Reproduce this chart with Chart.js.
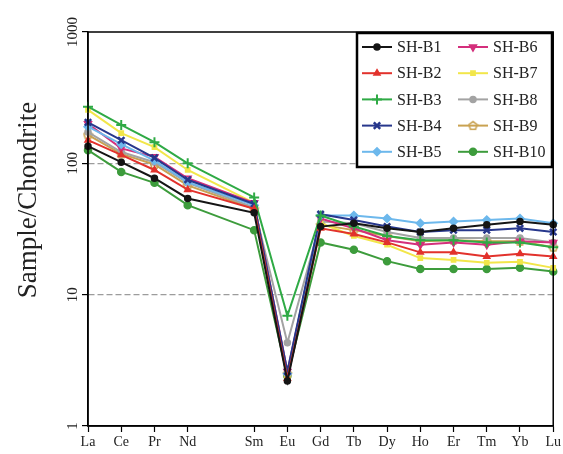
<!DOCTYPE html>
<html>
<head>
<meta charset="utf-8">
<script src="https://cdn.jsdelivr.net/npm/chart.js@4/dist/chart.umd.min.js"></script>
<style>
  html, body { margin: 0; padding: 0; background: #fff; }
  #wrap { width: 563px; height: 454px; }
</style>
</head>
<body>
<div id="wrap"><canvas id="reeChart"></canvas></div>
<script>
const elements = ['La', 'Ce', 'Pr', 'Nd', 'Pm', 'Sm', 'Eu', 'Gd', 'Tb', 'Dy', 'Ho', 'Er', 'Tm', 'Yb', 'Lu'];
const yTicks = [1, 10, 100, 1000];

// chondrite-normalised values, Pm not analysed
const shB1  = [135, 102, 77, 54, null, 42, 2.2, 33, 35, 32, 30, 32, 34, 36, 34];
const shB2  = [150, 116, 89, 63, null, 45, 2.3, 32, 29, 25, 21, 21, 19.5, 20.5, 19.5];
const shB3  = [270, 196, 145, 100, null, 55, 6.9, 40, 33, 28, 26, 26, 25, 25, 23];
const shB4  = [205, 150, 110, 75, null, 49, 2.6, 41, 37, 33, 30, 31, 31, 32, 30];
const shB5  = [190, 140, 105, 72, null, 48, 2.5, 40, 40, 38, 35, 36, 37, 38, 35];
const shB6  = [200, 130, 112, 77, null, 50, 2.6, 38, 32, 26, 24, 25, 24, 25.5, 25];
const shB7  = [255, 170, 133, 89, null, 50, 2.4, 35, 28, 24, 19, 18.4, 17.5, 17.8, 16];
const shB8  = [173, 122, 102, 71, null, 46, 4.3, 36, 35, 30, 27, 27, 27, 27, 25];
const shB9  = [165, 118, 98, 68, null, 45, 2.5, 34, 31, 28, 25.5, 26, 25.5, 25.5, 23];
const shB10 = [126, 86, 71, 48, null, 31, 2.4, 25, 22, 18, 15.7, 15.7, 15.7, 16, 15];

const SERIF = "'Liberation Serif', 'Times New Roman', serif";

function pentagon(color) {
    const c = document.createElement('canvas');
    c.width = 11; c.height = 11;
    const g = c.getContext('2d');
    g.strokeStyle = color;
    g.lineWidth = 1.6;
    g.beginPath();
    for (let i = 0; i < 5; i++) {
        const a = -Math.PI / 2 + i * 2 * Math.PI / 5;
        const px = 5.5 + 4.3 * Math.cos(a), py = 5.8 + 4.3 * Math.sin(a);
        i ? g.lineTo(px, py) : g.moveTo(px, py);
    }
    g.closePath();
    g.stroke();
    return c;
}

function series(label, data, color, style, extra) {
    return Object.assign({
        label: label,
        data: data,
        borderColor: color,
        backgroundColor: color,
        borderWidth: 2,
        pointStyle: style,
        pointRadius: 3,
        pointBorderWidth: 1.5,
        pointBorderColor: color,
        pointBackgroundColor: color,
        spanGaps: true,
        tension: 0
    }, extra || {});
}

const datasets = [
    series('SH-B1', shB1, '#151515', 'circle'),
    series('SH-B2', shB2, '#e2322c', 'triangle', { pointRadius: 3.5 }),
    series('SH-B3', shB3, '#2faa45', 'cross', { pointRadius: 5, pointBorderWidth: 2 }),
    series('SH-B4', shB4, '#27378c', 'crossRot', { pointRadius: 4.5, pointBorderWidth: 2.5 }),
    series('SH-B5', shB5, '#6db8ec', 'rectRot', { pointRadius: 4 }),
    series('SH-B6', shB6, '#d42f7c', 'triangle', { pointRadius: 4, pointRotation: 180 }),
    series('SH-B7', shB7, '#f2e64a', 'rect', { pointRadius: 3 }),
    series('SH-B8', shB8, '#a3a3a3', 'circle'),
    series('SH-B9', shB9, '#c9a251', pentagon('#c9a251')),
    series('SH-B10', shB10, '#3d9c3c', 'circle', { pointRadius: 3.5 })
];

const framePlugin = {
    id: 'frame',
    afterDatasetsDraw: chart => {
        const ctx = chart.ctx;
        const a = chart.chartArea;
        ctx.save();
        ctx.strokeStyle = '#000';
        ctx.lineWidth = 1.5;
        ctx.strokeRect(a.left, a.top, a.right - a.left, a.bottom - a.top);
        ctx.restore();
    }
};

const yLabelsPlugin = {
    id: 'yLabels',
    afterDraw: chart => {
        const ctx = chart.ctx;
        const y = chart.scales.y;
        ctx.save();
        ctx.fillStyle = '#222';
        ctx.font = '15px ' + SERIF;
        ctx.textAlign = 'center';
        ctx.textBaseline = 'middle';
        yTicks.forEach(v => {
            ctx.save();
            ctx.translate(73, y.getPixelForValue(v));
            ctx.rotate(-Math.PI / 2);
            ctx.fillText(String(v), 0, 0);
            ctx.restore();
        });
        // axis title
        ctx.font = '27px ' + SERIF;
        ctx.translate(29, 200);
        ctx.rotate(-Math.PI / 2);
        ctx.fillText('Sample/Chondrite', 0, 0);
        ctx.restore();
    }
};

const legendPlugin = {
    id: 'boxLegend',
    afterDraw: chart => {
        const ctx = chart.ctx;
        ctx.save();
        ctx.fillStyle = '#fff';
        ctx.fillRect(357, 33, 195, 134);
        ctx.strokeStyle = '#000';
        ctx.lineWidth = 2.5;
        ctx.strokeRect(357, 33, 195, 134);
        ctx.font = '16px ' + SERIF;
        ctx.textBaseline = 'middle';
        chart.data.datasets.forEach((ds, i) => {
            const col = i < 5 ? 0 : 1;
            const row = i % 5;
            const yy = 47 + row * 26.2;
            const x0 = col ? 458 : 362;
            const x1 = x0 + 30;
            ctx.strokeStyle = ds.borderColor;
            ctx.fillStyle = ds.pointBackgroundColor;
            ctx.lineWidth = 2;
            ctx.beginPath();
            ctx.moveTo(x0, yy);
            ctx.lineTo(x1, yy);
            ctx.stroke();
            ctx.lineWidth = ds.pointBorderWidth;
            Chart.helpers.drawPoint(ctx, {
                pointStyle: ds.pointStyle,
                radius: ds.pointRadius,
                rotation: ds.pointRotation || 0,
                borderWidth: ds.pointBorderWidth
            }, (x0 + x1) / 2, yy);
            ctx.fillStyle = '#222';
            ctx.fillText(ds.label, x1 + 5, yy + 1);
        });
        ctx.restore();
    }
};

const chart = new Chart(document.getElementById('reeChart').getContext('2d'), {
    type: 'line',
    data: { labels: elements, datasets: datasets },
    options: {
        responsive: true,
        maintainAspectRatio: false,
        animation: false,
        layout: { padding: { top: 32, right: 8, left: 0, bottom: 0 } },
        plugins: {
            legend: { display: false },
            tooltip: { enabled: false }
        },
        scales: {
            x: {
                type: 'category',
                offset: false,
                afterFit: s => { s.height = 28; },
                grid: {
                    drawOnChartArea: false,
                    tickLength: 6,
                    tickWidth: 1.2,
                    tickColor: c => elements[c.index] === 'Pm' ? 'rgba(0,0,0,0)' : '#000'
                },
                border: { color: '#000', width: 1.5 },
                ticks: {
                    autoSkip: false,
                    maxRotation: 0,
                    minRotation: 0,
                    padding: 2,
                    color: '#222',
                    font: { family: SERIF, size: 14 },
                    callback: (v, i) => elements[i] === 'Pm' ? '' : elements[i]
                }
            },
            y: {
                type: 'logarithmic',
                min: 1,
                max: 1000,
                afterFit: s => { s.width = 88; },
                afterBuildTicks: s => { s.ticks = yTicks.map(v => ({ value: v })); },
                grid: {
                    color: c => (c.tick && (c.tick.value === 10 || c.tick.value === 100)) ? '#9c9c9c' : 'rgba(0,0,0,0)',
                    lineWidth: 1.2,
                    tickLength: 6,
                    tickWidth: 1.2,
                    tickColor: '#000'
                },
                border: { color: '#000', width: 1.5, dash: [6, 3] },
                ticks: { display: false }
            }
        }
    },
    plugins: [framePlugin, yLabelsPlugin, legendPlugin]
});
</script>
</body>
</html>
